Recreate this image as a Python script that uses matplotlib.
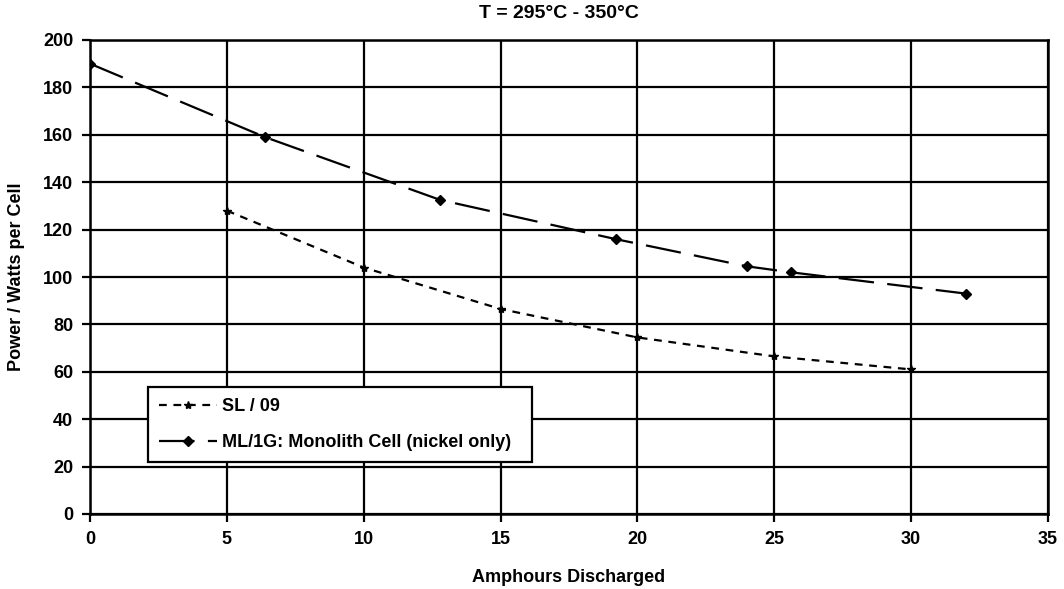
import matplotlib
matplotlib.use("Agg")
import matplotlib.pyplot as plt

plt.rcParams['font.family'] = ['Liberation Sans', 'DejaVu Sans']

# Data
sl_x = [5, 10, 15, 20, 25, 30]
sl_y = [128, 104, 86.5, 74.5, 66.5, 61]
ml_x = [0, 6.4, 12.8, 19.2, 24, 25.6, 32]
ml_y = [190, 159, 132.5, 116, 104.5, 102, 93]

sl_label = "SL / 09"
ml_label = "ML/1G: Monolith Cell (nickel only)"
title = "T = 295°C - 350°C"
xlabel = "Amphours Discharged"
ylabel = "Power / Watts per Cell"
x_ticks = [0, 5, 10, 15, 20, 25, 30, 35]
y_ticks = [0, 20, 40, 60, 80, 100, 120, 140, 160, 180, 200]

W, H = 1064, 589
fig = plt.figure(figsize=(W / 100, H / 100), dpi=100)
ax = fig.add_axes([90 / W, 1 - 514 / H, (1048 - 90) / W, (514 - 40) / H])

ax.plot(sl_x, sl_y, color='black', lw=1.6, dashes=(3.5, 3), marker='*', ms=6,
        label=sl_label, zorder=3)
ax.plot(ml_x, ml_y, color='black', lw=1.6, dashes=(16, 6), marker='D', ms=5,
        label=ml_label, zorder=3)

ax.set_xlim(0, 35)
ax.set_ylim(0, 200)
ax.set_xticks(x_ticks)
ax.set_yticks(y_ticks)
ax.grid(True, color='black', lw=1.6)
ax.set_axisbelow(True)
for s in ax.spines.values():
    s.set_linewidth(1.8)
    s.set_color('black')
ax.tick_params(direction='out', length=6, width=1.6, labelsize=13, pad=6)
for lab in ax.get_xticklabels() + ax.get_yticklabels():
    lab.set_fontweight('bold')

fig.text(559 / W, 1 - 14 / H, title, ha='center', va='center', fontsize=14, fontweight='bold')
fig.text(569 / W, 1 - 577 / H, xlabel, ha='center', va='center', fontsize=13, fontweight='bold')
fig.text(17 / W, 1 - 277 / H, ylabel, ha='center', va='center', rotation=90, fontsize=13, fontweight='bold')

leg = ax.legend(loc='lower left', bbox_to_anchor=((148 - 90) / (1048 - 90), (514 - 462) / (514 - 40),
                                                  (532 - 148) / (1048 - 90), (462 - 390) / (514 - 40)),
                mode='expand', frameon=True, fancybox=False, edgecolor='black', framealpha=1,
                prop={'size': 13, 'weight': 'bold'}, handlelength=3.2, handletextpad=0.3,
                borderaxespad=0, borderpad=0.6, labelspacing=1.05)
leg.get_frame().set_linewidth(1.6)

fig.savefig("out.png", dpi=100)
